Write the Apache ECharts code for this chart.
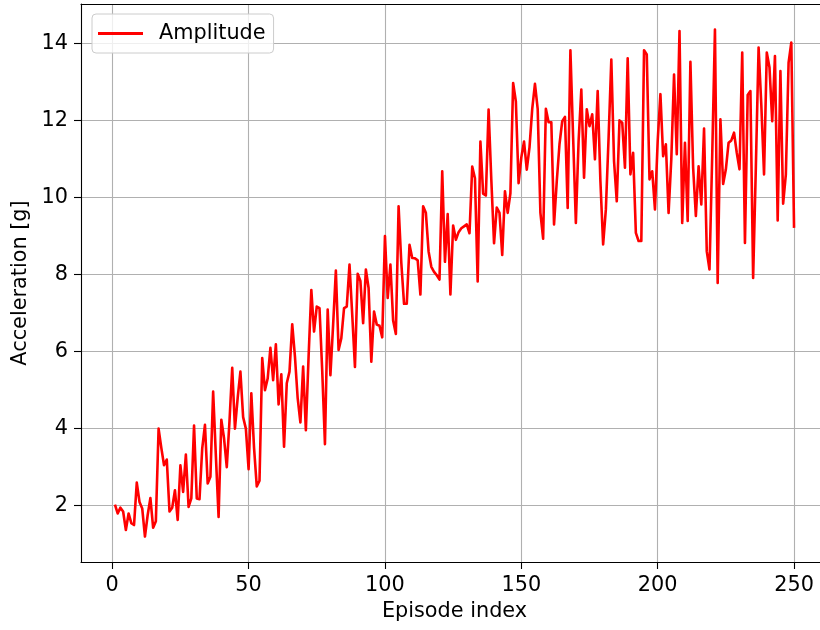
<!DOCTYPE html>
<html>
<head>
<meta charset="utf-8">
<script src="https://cdn.jsdelivr.net/npm/echarts@6/dist/echarts.min.js"></script>
<style>
html,body{margin:0;padding:0;background:#fff;}
#c{width:820px;height:630px;}
</style>
</head>
<body>
<div id="c"></div>
<script>
// Amplitude per episode (episodes 1..250)
const ampA = [2.03,1.8,1.95,1.85,1.37,1.8,1.55,1.5,2.6,2.1,1.93,1.2,1.76,2.2,1.43,1.6,4.0,3.5,3.05,3.2,1.85,1.95,2.4,1.63,3.05,2.36,3.33,1.97,2.19,4.08,2.19,2.17,3.49,4.1,2.58,2.75,4.96,3.3,1.71,4.23,3.75,3.0,4.2,5.58,4.0,4.8,5.48,4.3,4.0,2.95];
const ampB = [4.92,3.5,2.5,2.65,5.83,5.0,5.3,6.1,5.26,6.19,4.63,5.41,3.53,5.18,5.48,6.71,5.87,4.79,4.16,5.61,3.96,5.87,7.6,6.52,7.17,7.13,5.5,3.6,7.09,5.39,6.7,8.1,6.04,6.35,7.13,7.17,8.26,6.96,5.6,8.02,7.83,6.74,8.13,7.65,5.74,7.04,6.7,6.67,6.37,9.0];
const ampC = [7.39,8.26,6.81,6.46,9.77,8.3,7.24,7.24,8.77,8.43,8.42,8.37,7.48,9.77,9.6,8.6,8.2,8.07,7.98,7.87,10.68,8.33,9.57,7.48,9.27,8.9,9.1,9.2,9.25,9.3,9.07,10.8,10.5,7.82,11.45,10.1,10.05,12.28,10.46,8.81,9.74,9.6,8.51,10.16,9.6,10.11,12.97,12.49,10.37,11.04];
const ampD = [11.45,10.72,11.3,12.3,12.95,12.3,9.6,8.93,12.3,11.95,11.95,9.3,10.42,11.38,11.98,12.09,9.73,13.82,11.55,9.34,11.46,12.8,10.51,12.29,11.85,12.16,10.99,12.76,10.42,8.78,9.69,11.55,13.58,10.94,9.9,12.0,11.94,10.77,13.61,10.6,11.16,9.08,8.87,8.87,13.82,13.71,10.47,10.68,9.69,11.46];
const ampE = [12.68,11.07,11.38,9.6,11.0,13.19,11.12,14.32,9.34,11.42,9.39,13.52,10.77,9.52,10.81,9.82,11.79,8.6,8.13,11.1,14.36,7.78,12.03,10.35,10.73,11.42,11.48,11.68,11.16,10.73,13.76,8.82,12.66,12.76,7.91,10.8,13.89,12.4,10.6,13.76,13.37,11.98,13.67,9.4,13.28,9.84,10.6,13.5,14.02,9.21];
const xTicks = [0,50,100,150,200,250];
const yTicks = [2,4,6,8,10,12,14];
const seriesName = 'Amplitude';
const xName = 'Episode index';
const yName = 'Acceleration [g]';

const amplitude = ampA.concat(ampB, ampC, ampD, ampE);
const points = amplitude.map((v, i) => [i + 1, v]);

const FONT = 'DejaVu Sans';
const FS = 20.8;
const X_MIN = -11.45, X_MAX = 262.45;
const chart = echarts.init(document.getElementById('c'), null, {renderer: 'canvas'});
chart.setOption({
  animation: false,
  backgroundColor: '#fff',
  grid: {left: 81, top: 4, right: -8, bottom: 68, outerBoundsMode: 'none', containLabel: false, show: false},
  legend: {
    left: 92, top: 14,
    padding: [9, 8, 9, 6],
    icon: 'rect',
    itemWidth: 45, itemHeight: 2.8,
    backgroundColor: 'rgba(255,255,255,0.8)',
    borderColor: '#cccccc', borderWidth: 1, borderRadius: 4,
    formatter: '{a|{name}}',
    textStyle: {rich: {a: {fontFamily: FONT, fontSize: FS, color: '#000', padding: [0, 0, 0, 11]}}},
    data: [seriesName]
  },
  xAxis: [{
    type: 'value', min: X_MIN, max: X_MAX, position: 'bottom',
    name: xName, nameLocation: 'middle', nameGap: 38,
    nameTextStyle: {fontFamily: FONT, fontSize: FS, color: '#000'},
    axisLine: {show: true, onZero: false, lineStyle: {color: '#000', width: 1.1}},
    axisTick: {show: true, length: 7, customValues: xTicks, lineStyle: {color: '#000', width: 1.1}},
    axisLabel: {customValues: xTicks, margin: 13, fontFamily: FONT, fontSize: FS, color: '#000'},
    splitLine: {show: true, lineStyle: {color: '#b0b0b0', width: 1.1}}
  }, {
    type: 'value', min: X_MIN, max: X_MAX, position: 'top',
    axisLine: {show: true, onZero: false, lineStyle: {color: '#000', width: 1.1}},
    axisTick: {show: false}, axisLabel: {show: false}, splitLine: {show: false}
  }],
  yAxis: {
    type: 'value', min: 0.54, max: 15.02,
    name: yName, nameLocation: 'middle', nameGap: 49,
    nameTextStyle: {fontFamily: FONT, fontSize: FS, color: '#000'},
    axisLine: {show: true, onZero: false, lineStyle: {color: '#000', width: 1.1}},
    axisTick: {show: true, length: 7, customValues: yTicks, lineStyle: {color: '#000', width: 1.1}},
    axisLabel: {customValues: yTicks, margin: 13, fontFamily: FONT, fontSize: FS, color: '#000'},
    splitLine: {show: true, lineStyle: {color: '#b0b0b0', width: 1.1}}
  },
  series: [{
    name: seriesName, type: 'line', data: points, xAxisIndex: 0,
    symbol: 'none', showSymbol: false,
    lineStyle: {color: '#ff0000', width: 2.6, join: 'round'},
    itemStyle: {color: '#ff0000'}
  }]
});
</script>
</body>
</html>
